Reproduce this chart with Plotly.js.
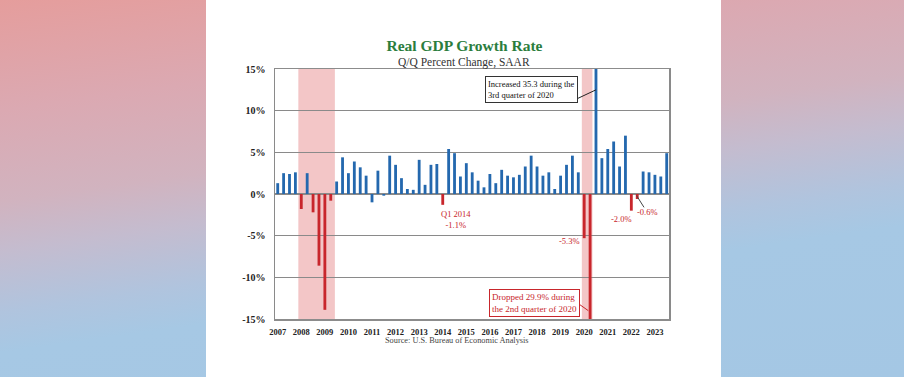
<!DOCTYPE html>
<html>
<head>
<meta charset="utf-8">
<script src="https://cdn.plot.ly/plotly-3.0.1.min.js"></script>
<style>
  html, body { margin:0; padding:0; width:904px; height:377px; overflow:hidden; }
  body { background: linear-gradient(172deg, #e59d9c 0%, #dba9b2 22%, #d1b3bf 40%, #c4bccf 50%, #b0c4de 62%, #a6c8e4 70%, #a4c7e4 100%); position:relative; }
  #panel { position:absolute; left:206px; top:0; width:515px; height:377px; background:#ffffff; }
  #chart { position:absolute; left:0; top:0; width:904px; height:377px; }
</style>
</head>
<body>
<div id="panel"></div>
<div id="chart"></div>
<script>
// Quarter labels 2007Q1 .. 2023Q3
const years = [2007,2008,2009,2010,2011,2012,2013,2014,2015,2016,2017,2018,2019,2020,2021,2022,2023];
const quarters = [];
years.forEach(y => { for (let q = 1; q <= 4; q++) { if (!(y === 2023 && q === 4)) quarters.push(y + 'Q' + q); } });

// Real GDP growth, Q/Q % change SAAR
const growth = [
  1.3, 2.5, 2.4, 2.6,      // 2007
  -1.8, 2.5, -2.2, -8.6,   // 2008
  -13.9, -0.8, 1.5, 4.4,   // 2009
  2.5, 3.9, 3.2, 2.2,      // 2010
  -1.0, 2.8, -0.2, 4.6,    // 2011
  3.5, 1.9, 0.6, 0.5,      // 2012
  4.1, 1.1, 3.5, 3.6,      // 2013
  -1.3, 5.4, 4.9, 2.1,     // 2014
  3.7, 2.6, 1.6, 0.8,      // 2015
  2.4, 1.3, 2.9, 2.2,      // 2016
  2.0, 2.3, 3.3, 4.6,      // 2017
  3.3, 2.2, 2.6, 0.6,      // 2018
  2.2, 3.5, 4.6, 2.6,      // 2019
  -5.3, -29.9, 35.3, 4.3,  // 2020
  5.4, 6.3, 3.3, 7.0,      // 2021
  -2.0, -0.6, 2.7, 2.6,    // 2022
  2.3, 2.1, 4.9            // 2023
];

// Quarters highlighted in red
const highlighted = ['2008Q1','2008Q3','2008Q4','2009Q1','2009Q2','2014Q1','2020Q1','2020Q2','2022Q1','2022Q2'];

// Recession periods (in quarter-index units)
const recessions = [[3.5, 9.7], [51.6, 53.4]];

const tickYears = years.map(String);
const tickQuarters = years.map(y => y + 'Q1');
const yTickVals = [-15, -10, -5, 0, 5, 10, 15];
const yTickText = yTickVals.map(v => v + '%');

const BLUE = '#2468ae', RED = '#c8262c', SERIF = 'Liberation Serif, Times New Roman, serif';
const colors = quarters.map(q => highlighted.includes(q) ? RED : BLUE);

const trace = {
  type: 'bar', x: quarters, y: growth, width: 0.48,
  marker: { color: colors, line: { width: 0 } },
  hoverinfo: 'x+y'
};

const shapes = recessions.map(r => ({
  type: 'rect', xref: 'x', yref: 'paper', x0: r[0], x1: r[1], y0: 0, y1: 1,
  fillcolor: '#f3c6c7', line: { width: 0 }, layer: 'below'
}));
// leader lines for annotations
shapes.push({ type:'line', xref:'x', yref:'y', x0:50.7, y0:11.4, x1:54.0, y1:12.5, line:{color:'#222', width:1} });
shapes.push({ type:'line', xref:'x', yref:'y', x0:51.1, y0:-13.2, x1:52.7, y1:-14.0, line:{color:RED, width:1} });
shapes.push({ type:'line', xref:'x', yref:'y', x0:60.9, y0:-0.2, x1:62.15, y1:-1.6, line:{color:'#444', width:1} });

const annotations = [
  { xref:'paper', yref:'paper', x:0.48, y:1.025, text:'Q/Q Percent Change, SAAR', showarrow:false,
    font:{family:SERIF, size:11.5, color:'#333'}, xanchor:'center', yanchor:'middle' },
  { xref:'paper', yref:'paper', x:0.463, y:-0.087, text:'Source: U.S. Bureau of Economic Analysis', showarrow:false,
    font:{family:SERIF, size:8.3, color:'#444'}, xanchor:'center', yanchor:'middle' },
  { xref:'x', yref:'y', x:43.0, y:12.6, text:'Increased 35.3 during the<br>3rd quarter of 2020', showarrow:false, align:'left',
    font:{family:SERIF, size:8.5, color:'#111'}, bgcolor:'#ffffff', bordercolor:'#333', borderwidth:1, borderpad:2 },
  { xref:'x', yref:'y', x:43.5, y:-13.05, text:'Dropped 29.9% during<br>the 2nd quarter of 2020', showarrow:false, align:'left',
    font:{family:SERIF, size:9, color:RED}, bgcolor:'#ffffff', bordercolor:RED, borderwidth:1, borderpad:2 },
  { xref:'x', yref:'y', x:30.2, y:-3.1, text:'Q1 2014<br>-1.1%', showarrow:false, align:'center',
    font:{family:SERIF, size:8.5, color:RED} },
  { xref:'x', yref:'y', x:49.5, y:-5.65, text:'-5.3%', showarrow:false, font:{family:SERIF, size:8.5, color:RED} },
  { xref:'x', yref:'y', x:58.25, y:-3.0, text:'-2.0%', showarrow:false, font:{family:SERIF, size:8.5, color:RED} },
  { xref:'x', yref:'y', x:62.8, y:-2.2, text:'-0.6%', showarrow:false, font:{family:SERIF, size:8.5, color:RED} }
];

const layout = {
  width: 904, height: 377,
  margin: { l: 275, r: 235, t: 69, b: 58, pad: 0 },
  paper_bgcolor: 'rgba(0,0,0,0)', plot_bgcolor: 'rgba(0,0,0,0)',
  showlegend: false,
  title: { text: 'Real GDP Growth Rate', x: 0.5138, xref: 'container', y: 0.879, yref: 'container',
           xanchor: 'center', yanchor: 'middle',
           font: { family: SERIF, size: 15.5, color: '#2b7d3d', weight: 'bold' } },
  xaxis: {
    type: 'category', categoryorder: 'array', categoryarray: quarters,
    range: [-0.46, 66.39], tickmode: 'array', tickvals: tickQuarters, ticktext: tickYears,
    tickfont: { family: SERIF, size: 8.5, color: '#222', weight: 'bold' },
    ticks: '', showgrid: false, zeroline: false, ticklabelstandoff: 4,
    showline: true, mirror: true, linecolor: '#8c8c8c', linewidth: 1.5, fixedrange: true
  },
  yaxis: {
    range: [-15, 15], tickmode: 'array', tickvals: yTickVals, ticktext: yTickText,
    tickfont: { family: SERIF, size: 10, color: '#222', weight: 'bold' },
    ticks: '', ticklabelstandoff: 6, showgrid: true, gridcolor: '#8a8a8a', gridwidth: 1.5,
    zeroline: false, showline: true, mirror: true, linecolor: '#8a8a8a', linewidth: 1.5, fixedrange: true
  },
  bargap: 0.6,
  shapes: shapes,
  annotations: annotations
};

Plotly.newPlot('chart', [trace], layout, { displayModeBar: false, staticPlot: true });
</script>
</body>
</html>
